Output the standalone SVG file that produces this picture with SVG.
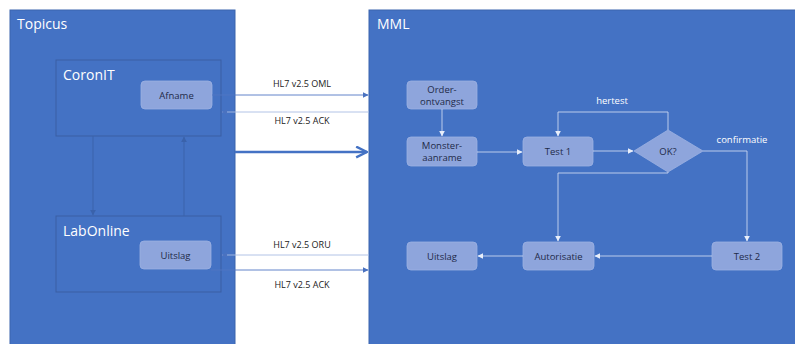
<svg xmlns="http://www.w3.org/2000/svg" width="795" height="344" viewBox="0 0 795 344">
<defs>
<style>
.panel{fill:#4472C4;stroke:#3b64ad;stroke-width:1}
.sub{fill:#4472C4;stroke:#3a5fa3;stroke-width:1}
.node{fill:#8ea5dc;stroke:#9cb1e2;stroke-width:0.8}
.ntxt{font-family:"Open Sans","Liberation Sans",sans-serif;font-size:9.5px;fill:#1e2a48;text-anchor:middle}
.title{font-family:"Open Sans","Liberation Sans",sans-serif;font-size:14px;fill:#ffffff}
.lbl{font-family:"Open Sans","Liberation Sans",sans-serif;font-size:9px;fill:#222222;text-anchor:middle}
.wl{font-family:"Open Sans","Liberation Sans",sans-serif;font-size:9.5px;fill:#ffffff;text-anchor:middle}
.ln{fill:none;stroke:#5077c4;stroke-width:0.9}
.lnw{fill:none;stroke:#c9d6f0;stroke-width:0.9}
.lnd{fill:none;stroke:#3a62ab;stroke-width:1}
</style>
<marker id="ab" viewBox="0 0 10 10" refX="9" refY="5" markerWidth="6" markerHeight="6" orient="auto" markerUnits="userSpaceOnUse"><path d="M0,0 L10,5 L0,10 z" fill="#4a72c0"/></marker>
<marker id="aw" viewBox="0 0 10 10" refX="9" refY="5" markerWidth="6" markerHeight="6" orient="auto" markerUnits="userSpaceOnUse"><path d="M0,0 L10,5 L0,10 z" fill="#e8eefa"/></marker>
<marker id="ad" viewBox="0 0 10 10" refX="9" refY="5" markerWidth="6" markerHeight="6" orient="auto" markerUnits="userSpaceOnUse"><path d="M0,0 L10,5 L0,10 z" fill="#3a62ab"/></marker>
<marker id="big" viewBox="0 0 12 12" refX="11" refY="6" markerWidth="13" markerHeight="13" orient="auto" markerUnits="userSpaceOnUse"><path d="M1,1 L11,6 L1,11" fill="none" stroke="#4472C4" stroke-width="2.2"/></marker>
</defs>
<rect width="795" height="344" fill="#ffffff"/>
<g id="topicus">
<rect class="panel" x="10" y="10" width="225" height="340"/>
<text class="title" x="17" y="29">Topicus</text>
</g>
<g id="mml">
<rect class="panel" x="369" y="10" width="430" height="340"/>
<text class="title" x="377" y="29">MML</text>
</g>
<g id="coronit">
<rect class="sub" x="56" y="60" width="165" height="76"/>
<text class="title" x="63" y="80">CoronIT</text>
</g>
<g id="afname">
<rect class="node" x="141" y="81" width="71" height="28" rx="4"/>
<text class="ntxt" x="176.5" y="98.5">Afname</text>
</g>
<g id="labonline">
<rect class="sub" x="56" y="216" width="165" height="76"/>
<text class="title" x="63" y="236">LabOnline</text>
</g>
<g id="uitslag-topicus">
<rect class="node" x="140" y="241" width="71" height="28" rx="4"/>
<text class="ntxt" x="175.5" y="258.5">Uitslag</text>
</g>
<g id="order">
<rect class="node" x="407" y="81" width="70" height="28" rx="4"/>
<text class="ntxt" x="442" y="92.5">Order-</text>
<text class="ntxt" x="442" y="104.5">ontvangst</text>
</g>
<g id="monster">
<rect class="node" x="407" y="137" width="70" height="29" rx="4"/>
<text class="ntxt" x="442" y="148.5">Monster-</text>
<text class="ntxt" x="442" y="160.5">aanrame</text>
</g>
<g id="test1">
<rect class="node" x="523" y="137" width="70" height="29" rx="4"/>
<text class="ntxt" x="558" y="155">Test 1</text>
</g>
<g id="ok">
<polygon class="node" points="668,130 703,151 668,172 634,151"/>
<text class="ntxt" x="668" y="155">OK?</text>
</g>
<g id="test2">
<rect class="node" x="712" y="242" width="70" height="28" rx="4"/>
<text class="ntxt" x="747" y="259.5">Test 2</text>
</g>
<g id="autorisatie">
<rect class="node" x="523" y="242" width="71" height="28" rx="4"/>
<text class="ntxt" x="558.5" y="259.5">Autorisatie</text>
</g>
<g id="uitslag-mml">
<rect class="node" x="407" y="242" width="70" height="28" rx="4"/>
<text class="ntxt" x="442" y="259.5">Uitslag</text>
</g>
<g id="connectors">
<path class="lnd" d="M93,136 V215" marker-end="url(#ad)"/>
<path class="lnd" d="M184,216 V137" marker-end="url(#ad)"/>
<path class="ln" d="M212,95 H368" marker-end="url(#ab)"/>
<path class="ln" d="M369,112 H222" marker-end="url(#ab)" style="stroke:#a9bce3"/>
<path d="M235,152 H367" fill="none" stroke="#4472C4" stroke-width="2.4" marker-end="url(#big)"/>
<path class="ln" d="M369,255 H222" marker-end="url(#ab)" style="stroke:#a9bce3"/>
<path class="ln" d="M211,270 H368" marker-end="url(#ab)"/>
<text class="lbl" x="302" y="87">HL7 v2.5 OML</text>
<text class="lbl" x="302" y="124">HL7 v2.5 ACK</text>
<text class="lbl" x="302" y="248">HL7 v2.5 ORU</text>
<text class="lbl" x="302" y="288">HL7 v2.5 ACK</text>
<path class="lnw" d="M442,109 V136" marker-end="url(#aw)"/>
<path class="lnw" d="M477,152 H522" marker-end="url(#aw)"/>
<path class="lnw" d="M593,151 H633" marker-end="url(#aw)"/>
<path class="lnw" d="M668,130 V112 H558 V136" marker-end="url(#aw)"/>
<text class="wl" x="612" y="104">hertest</text>
<path class="lnw" d="M703,151 H747 V241" marker-end="url(#aw)"/>
<text class="wl" x="742" y="143">confirmatie</text>
<path class="lnw" d="M668,172 V173 H558 V241" marker-end="url(#aw)"/>
<path class="lnw" d="M712,256 H595" marker-end="url(#aw)"/>
<path class="lnw" d="M523,256 H478" marker-end="url(#aw)"/>
</g>
</svg>
